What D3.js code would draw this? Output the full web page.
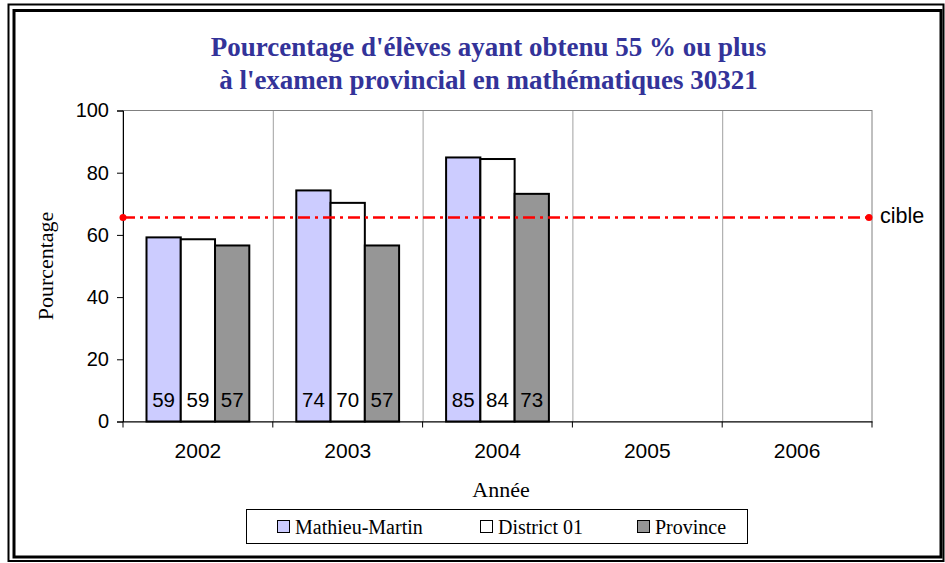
<!DOCTYPE html>
<html lang="fr">
<head>
  <meta charset="UTF-8">
  <title>Pourcentage</title>
  <style>
    body { margin: 0; background: #fff; }
    svg { display: block; }
  </style>
</head>
<body>
  <script src="https://d3js.org/d3.v7.min.js"></script>
  <script>
    const years = ['2002', '2003', '2004', '2005', '2006'];
    const seriesNames = ['Mathieu-Martin', 'District 01', 'Province'];
    const mathieuMartin = [59.2, 74.3, 84.9];
    const district01 = [58.6, 70.3, 84.4];
    const province = [56.6, 56.6, 73.2];
    const yTicks = [0, 20, 40, 60, 80, 100];
    const cible = 65.6;

    const width = 945, height = 563;
    const margin = { top: 110.5, left: 123, right: 73, bottom: 141.5 };
    const colors = ['#ccccff', '#ffffff', '#969696'];
    const serif = '"Liberation Serif", "Times New Roman", serif';
    const sans = '"Liberation Sans", Arial, sans-serif';

    const svg = d3.select('body').append('svg')
      .attr('width', width).attr('height', height);

    // double cadre
    svg.append('rect').attr('x', 8.5).attr('y', 4.5).attr('width', 935).attr('height', 556.5)
      .attr('fill', 'none').attr('stroke', '#000').attr('stroke-width', 2);
    svg.append('rect').attr('x', 14).attr('y', 10.5).attr('width', 927).attr('height', 546.5)
      .attr('fill', 'none').attr('stroke', '#000').attr('stroke-width', 3);

    // titre
    const title = svg.append('text')
      .attr('text-anchor', 'middle')
      .attr('font-family', serif).attr('font-weight', 'bold')
      .attr('font-size', 27).attr('fill', '#333399');
    title.append('tspan').attr('x', 488.5).attr('y', 56).text("Pourcentage d'élèves ayant obtenu 55 % ou plus");
    title.append('tspan').attr('x', 488.5).attr('y', 89).text("à l'examen provincial en mathématiques 30321");

    const x = d3.scaleBand().domain(years)
      .range([margin.left, width - margin.right]);
    const y = d3.scaleLinear().domain([0, 100])
      .range([height - margin.bottom, margin.top]);

    const inner = d3.scaleBand().domain(seriesNames)
      .range([23.5, x.bandwidth() - 23.5]);

    // quadrillage vertical
    svg.append('g').selectAll('line')
      .data(years.slice(1))
      .join('line')
      .attr('x1', d => x(d) + 0.5).attr('x2', d => x(d) + 0.5)
      .attr('y1', y(100)).attr('y2', y(0))
      .attr('stroke', '#a0a0a0').attr('stroke-width', 1);

    // cadre de la zone de tracé
    svg.append('rect')
      .attr('x', margin.left).attr('y', y(100))
      .attr('width', x.range()[1] - margin.left).attr('height', y(0) - y(100))
      .attr('fill', 'none').attr('stroke', '#808080').attr('stroke-width', 1);

    // axe y
    const yAxis = svg.append('g')
      .attr('transform', `translate(${margin.left},0)`)
      .call(d3.axisLeft(y).tickValues(yTicks).tickSize(6).tickPadding(8));
    yAxis.select('.domain').attr('stroke', '#000');
    yAxis.selectAll('text').attr('font-family', sans).attr('font-size', 20).attr('fill', '#000');

    // axe x
    const xAxis = svg.append('g')
      .attr('transform', `translate(0,${y(0)})`)
      .call(d3.axisBottom(x).tickSize(0).tickPadding(22));
    xAxis.select('.domain').attr('stroke', '#000');
    xAxis.selectAll('text').attr('font-family', sans).attr('font-size', 21).attr('fill', '#000');
    xAxis.selectAll('.sep')
      .data(years.concat(['end']))
      .join('line')
      .attr('x1', (d, i) => margin.left + i * x.bandwidth())
      .attr('x2', (d, i) => margin.left + i * x.bandwidth())
      .attr('y1', 0).attr('y2', 6)
      .attr('stroke', '#000');

    // barres
    const rows = [mathieuMartin, district01, province];
    const bars = [];
    rows.forEach((vals, s) => {
      vals.forEach((v, i) => bars.push({ year: years[i], series: seriesNames[s], s, v }));
    });

    const barG = svg.append('g');
    barG.selectAll('rect')
      .data(bars)
      .join('rect')
      .attr('x', d => x(d.year) + inner(d.series))
      .attr('y', d => y(d.v))
      .attr('width', inner.bandwidth())
      .attr('height', d => y(0) - y(d.v))
      .attr('fill', d => colors[d.s])
      .attr('stroke', '#000').attr('stroke-width', 2);

    barG.selectAll('text')
      .data(bars)
      .join('text')
      .attr('x', d => x(d.year) + inner(d.series) + inner.bandwidth() / 2)
      .attr('y', y(0) - 15)
      .attr('text-anchor', 'middle')
      .attr('font-family', sans).attr('font-size', 20.5).attr('fill', '#000')
      .text(d => Math.round(d.v));

    // ligne cible
    const xEnd = x.range()[1] - 3;
    svg.append('line')
      .attr('x1', margin.left).attr('x2', xEnd)
      .attr('y1', y(cible)).attr('y2', y(cible))
      .attr('stroke', '#ff0000').attr('stroke-width', 2.5)
      .attr('stroke-dasharray', '12,5,3,5');
    svg.selectAll('.cibleDot')
      .data([margin.left, xEnd])
      .join('circle')
      .attr('cx', d => d).attr('cy', y(cible)).attr('r', 3.5)
      .attr('fill', '#ff0000');
    svg.append('text')
      .attr('x', 880).attr('y', y(cible) + 6)
      .attr('font-family', sans).attr('font-size', 21.5).attr('fill', '#000')
      .text('cible');

    // titres des axes
    svg.append('text')
      .attr('transform', `translate(53,${(y(0) + y(100)) / 2}) rotate(-90)`)
      .attr('text-anchor', 'middle')
      .attr('font-family', serif).attr('font-size', 22).attr('fill', '#000')
      .text('Pourcentage');
    svg.append('text')
      .attr('x', 501).attr('y', 497)
      .attr('text-anchor', 'middle')
      .attr('font-family', serif).attr('font-size', 22).attr('fill', '#000')
      .text('Année');

    // légende
    const legend = svg.append('g');
    legend.append('rect')
      .attr('x', 246.5).attr('y', 509.5).attr('width', 501).attr('height', 34)
      .attr('fill', '#fff').attr('stroke', '#000').attr('stroke-width', 1);
    const legendX = [277, 480, 637];
    const item = legend.selectAll('.item')
      .data(seriesNames)
      .join('g')
      .attr('transform', (d, i) => `translate(${legendX[i]},520)`);
    item.append('rect')
      .attr('x', 0.5).attr('y', 0.5).attr('width', 12).attr('height', 12)
      .attr('fill', (d, i) => colors[i]).attr('stroke', '#000');
    item.append('text')
      .attr('x', 18).attr('y', 13.5)
      .attr('font-family', serif).attr('font-size', 20).attr('fill', '#000')
      .text(d => d);
  </script>
</body>
</html>
